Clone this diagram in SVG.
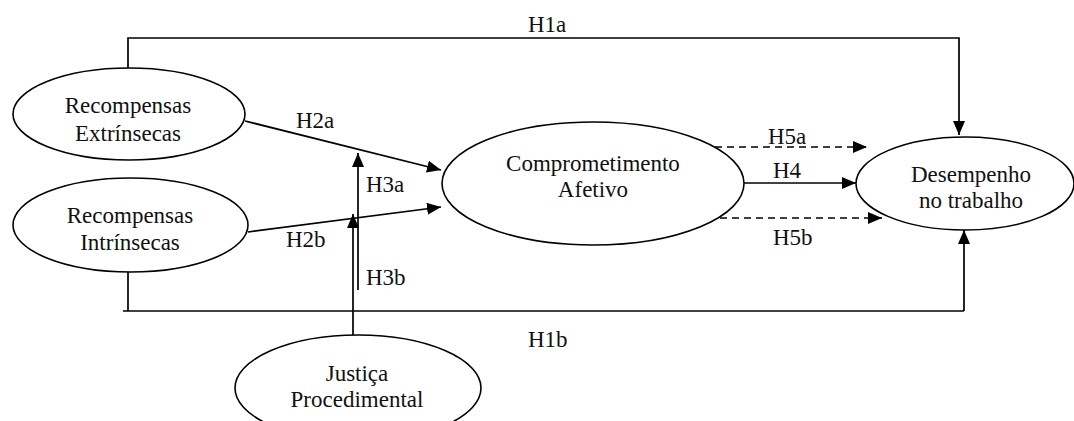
<svg xmlns="http://www.w3.org/2000/svg" width="1074" height="421" viewBox="0 0 1074 421" font-family="'Liberation Serif', 'Times New Roman', Times, serif">
<style>
.n{fill:#fff;stroke:#000;stroke-width:1.6}
.t{font-family:'Liberation Serif','Times New Roman',Times,serif;font-size:23px;fill:#111;text-anchor:middle}
.l{font-family:'Liberation Serif','Times New Roman',Times,serif;font-size:23px;fill:#111}
.c{fill:none;stroke:#000;stroke-width:1.7}
.a{marker-end:url(#ah)}
.d{stroke-dasharray:7 5}
</style>
<defs>
<marker id="ah" markerUnits="userSpaceOnUse" markerWidth="15" markerHeight="13" refX="14" refY="6" orient="auto">
<path d="M0,0 L14,6 L0,12 z" fill="#000"/>
</marker>
</defs>
<rect width="1074" height="421" fill="#fff"/>
<g id="connectors">
<polyline class="c a" points="128,68 128,38 959,38 959,135"/>
<line class="c" x1="128" y1="272" x2="128" y2="311"/>
<line class="c" x1="123" y1="311" x2="964" y2="311"/>
<line class="c a" x1="964" y1="311" x2="964" y2="230"/>
<line class="c a" x1="245" y1="121" x2="441" y2="170"/>
<line class="c a" x1="248" y1="232" x2="441" y2="207"/>
<line class="c a" x1="358" y1="290" x2="358" y2="153"/>
<line class="c a" x1="353" y1="335" x2="353" y2="214"/>
<line class="c a" x1="743" y1="183" x2="856" y2="183"/>
<line class="c a d" x1="715" y1="147" x2="867" y2="147"/>
<line class="c a d" x1="720" y1="218" x2="882" y2="218"/>
<text class="l" x="528" y="32">H1a</text>
<text class="l" x="528" y="347">H1b</text>
<text class="l" x="296" y="128">H2a</text>
<text class="l" x="286" y="247">H2b</text>
<text class="l" x="366" y="192">H3a</text>
<text class="l" x="366" y="285">H3b</text>
<text class="l" x="773" y="178">H4</text>
<text class="l" x="768" y="144">H5a</text>
<text class="l" x="773" y="245">H5b</text>
</g>
<g id="rext">
<ellipse class="n" cx="129" cy="114" rx="116" ry="46"/>
<text class="t" x="128" y="113">Recompensas</text>
<text class="t" x="128" y="141">Extrínsecas</text>
</g>
<g id="rint">
<ellipse class="n" cx="130.5" cy="225" rx="117.5" ry="47"/>
<text class="t" x="130" y="223">Recompensas</text>
<text class="t" x="130" y="250">Intrínsecas</text>
</g>
<g id="comp">
<ellipse class="n" cx="593" cy="183.5" rx="151" ry="61.5"/>
<text class="t" x="593" y="171">Comprometimento</text>
<text class="t" x="593" y="197">Afetivo</text>
</g>
<g id="desemp">
<ellipse class="n" cx="965" cy="183.5" rx="109" ry="46.5"/>
<text class="t" x="971" y="182">Desempenho</text>
<text class="t" x="971" y="208">no trabalho</text>
</g>
<g id="justica">
<ellipse class="n" cx="358" cy="388" rx="123" ry="53"/>
<text class="t" x="357" y="381">Justiça</text>
<text class="t" x="357" y="407">Procedimental</text>
</g>
</svg>
